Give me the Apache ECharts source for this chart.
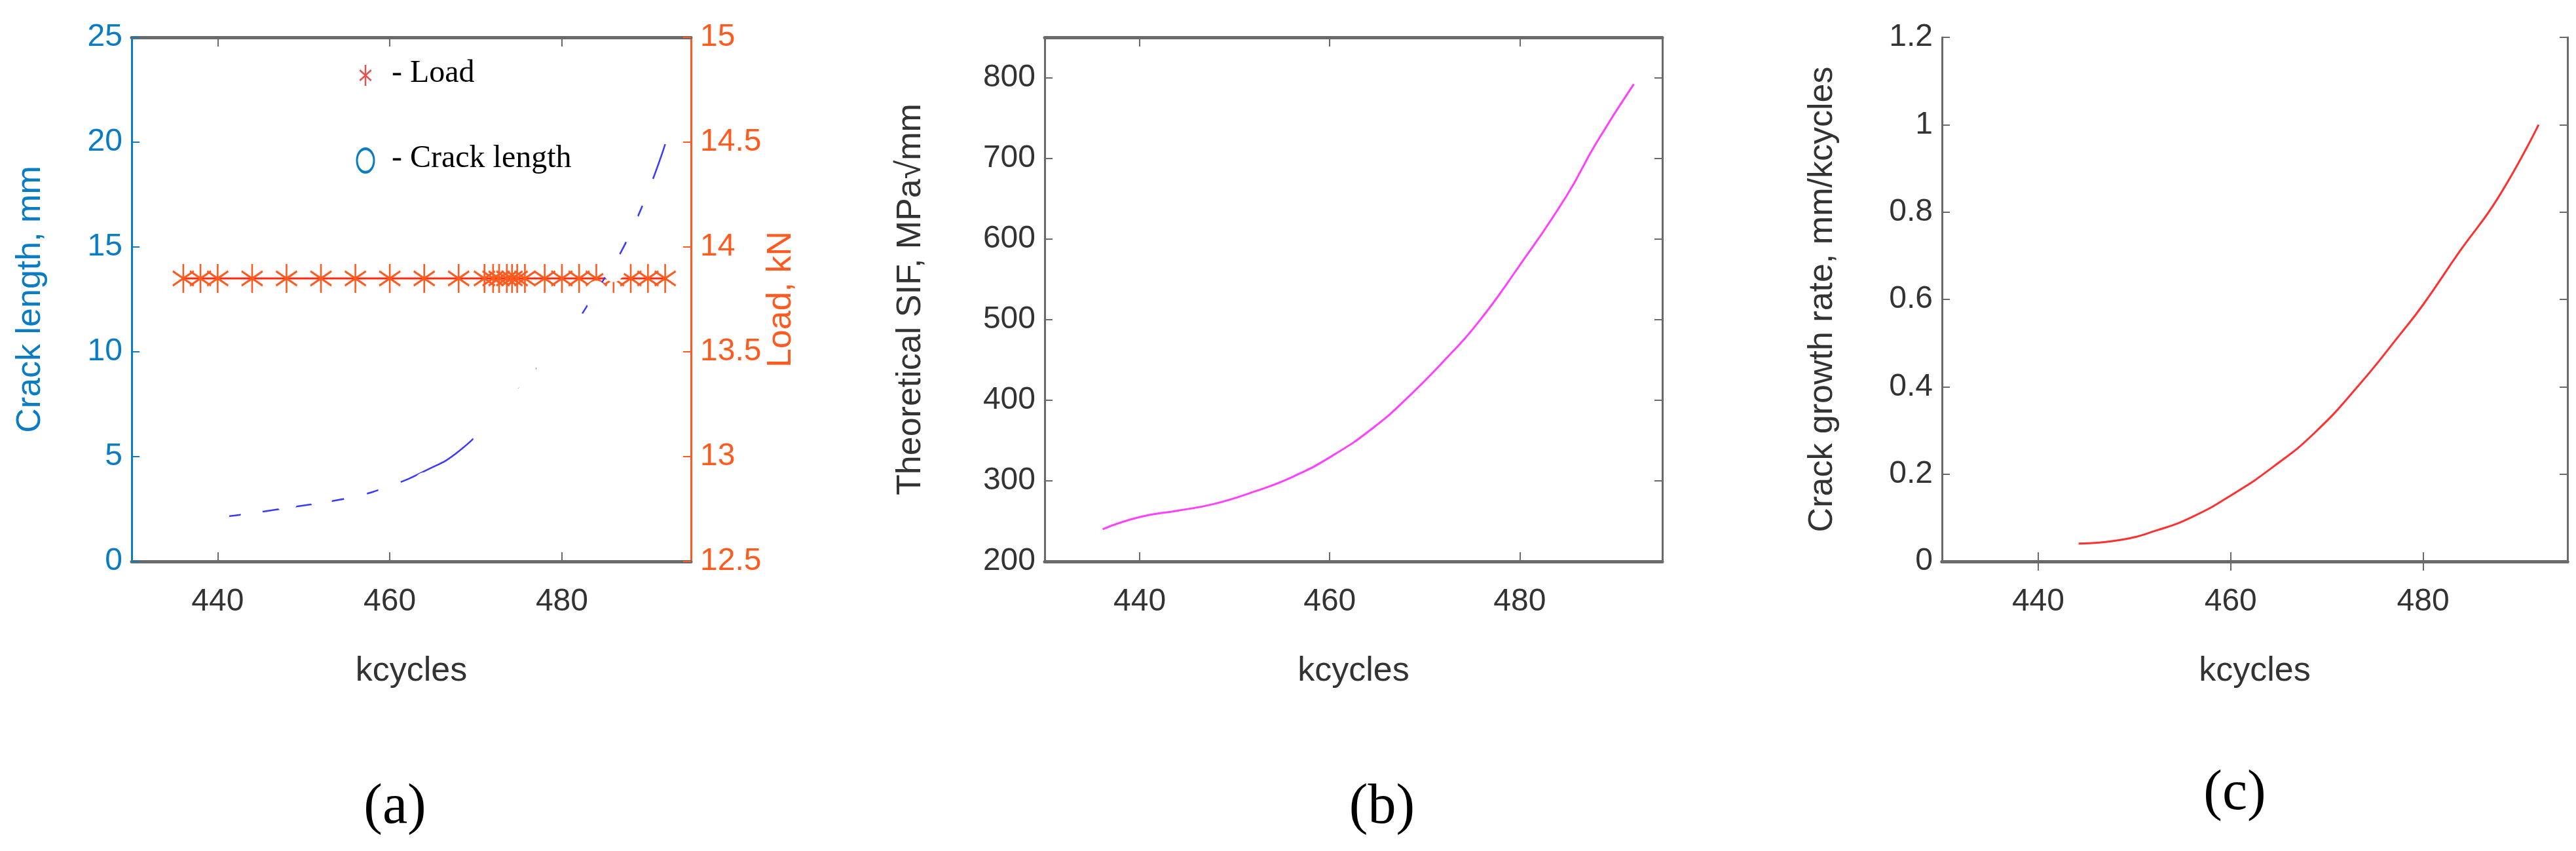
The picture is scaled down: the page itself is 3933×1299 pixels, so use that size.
<!DOCTYPE html>
<html><head><meta charset="utf-8">
<script src="https://cdn.jsdelivr.net/npm/echarts@6/dist/echarts.min.js"></script>
<style>html,body{margin:0;padding:0;background:#fff}#c{width:3933px;height:1299px}</style>
</head><body><div id="c"></div>
<script>
// Panel (a) data
const crackX = [436,438,440,444,448,452,456,460,464,468,471,472,472.7,473.6,474.8,475.7,478,480,482,484,486,488,490,492];
const crackY = [2.06,2.06,2.06,2.06,3.04,3.15,3.15,3.53,3.53,4.03,6.05,7.36,7.47,8.35,9.0,8.95,9.72,10.54,11.14,12.67,14.05,15.9,17.6,21.05];
const loadX = [436,438,440,444,448,452,456,460,464,468,471,472,472.7,473.6,474.2,474.8,475.7,478,480,482,484,486,488,490,492];
const loadY = [13.85,13.85,13.85,13.85,13.85,13.85,13.85,13.85,13.85,13.85,13.85,13.85,13.85,13.85,13.85,13.85,13.85,13.85,13.85,13.85,13.85,13.85,13.85,13.85,13.85];
const fitX = [436,440,444,448,452,456,460,464,468,472,476,480,484,488,492];
const fitY = [1.95,2.1,2.3,2.55,2.8,3.1,3.6,4.3,5.25,6.9,8.8,10.5,12.9,15.7,19.9];
// Panel (b) data
const sifX = [436.1,440,444,447.7,451.9,456.1,460.4,464.6,468,472.2,475.6,479.8,484.9,488,492];
const sifY = [240,255,263,271,286,305,332,366,401,451,496,564,653,718,792];
// Panel (c) data
const rateX = [444.2,448.5,452.3,456.1,460.3,464.5,468.7,473.3,477.5,480,483.8,487.8,492];
const rateY = [0.041,0.049,0.071,0.103,0.155,0.218,0.294,0.403,0.517,0.588,0.710,0.833,1.0];
const xTicks = [440,460,480];

const pair = (xs, ys) => xs.map((x, i) => [x, ys[i]]);
const SANS = 'Liberation Sans', SERIF = 'Liberation Serif';
const BLUE = '#0a7cc4', ORANGE = '#ff5a1f', GRAY = '#6a6a6a';
const STAR = 'path://M0,-10L0,10M-8.66,-5L8.66,5M-8.66,5L8.66,-5';
const FS = 48;

function xAx(grid) {
  return [{
    type: 'value', gridIndex: grid, min: 430, max: 495, position: 'bottom',
    axisLine: {lineStyle: {color: GRAY, width: 5}},
    axisTick: {inside: true, length: 14, customValues: xTicks, lineStyle: {color: GRAY, width: 2}},
    axisLabel: {customValues: xTicks, color: '#333', fontFamily: SANS, fontSize: FS, margin: 38},
    splitLine: {show: false},
    name: 'kcycles', nameLocation: 'middle', nameGap: 142,
    nameTextStyle: {color: '#333', fontFamily: SANS, fontSize: 52}
  }, {
    type: 'value', gridIndex: grid, min: 430, max: 495, position: 'top',
    axisLine: {lineStyle: {color: GRAY, width: 5}},
    axisTick: {inside: true, length: 14, customValues: xTicks, lineStyle: {color: GRAY, width: 2}},
    axisLabel: {show: false}, splitLine: {show: false}
  }];
}

const starLines = (cx, cy, r, ry, col) => [[0, -1, 0, 1], [-0.866, -0.5, 0.866, 0.5], [-0.866, 0.5, 0.866, -0.5]]
  .map(s => ({type: 'line', shape: {x1: cx + s[0]*r, y1: cy + s[1]*ry, x2: cx + s[2]*r, y2: cy + s[3]*ry},
              style: {stroke: col, lineWidth: 2.5}}));

const option = {
  animation: false,
  backgroundColor: '#fff',
  grid: [
    {left: 201, width: 854, top: 57, height: 800},
    {left: 1595, width: 943, top: 57, height: 800},
    {left: 2965, width: 955, top: 57, height: 800}
  ],
  xAxis: [...xAx(0), ...xAx(1), ...xAx(2)],
  yAxis: [
    {type: 'value', gridIndex: 0, min: 0, max: 25, interval: 5, position: 'left',
     axisLine: {show: true, lineStyle: {color: BLUE, width: 3}},
     axisTick: {show: true, inside: true, length: 12, lineStyle: {color: BLUE, width: 2}},
     axisLabel: {color: BLUE, fontFamily: SANS, fontSize: FS, margin: 14},
     splitLine: {show: false},
     name: 'Crack length, mm', nameLocation: 'middle', nameGap: 128,
     nameTextStyle: {color: BLUE, fontFamily: SANS, fontSize: 52}},
    {type: 'value', gridIndex: 0, min: 12.5, max: 15, interval: 0.5, position: 'right',
     axisLine: {show: true, lineStyle: {color: ORANGE, width: 3}},
     axisTick: {show: true, inside: true, length: 12, lineStyle: {color: ORANGE, width: 2}},
     axisLabel: {color: ORANGE, fontFamily: SANS, fontSize: FS, margin: 14},
     splitLine: {show: false},
     name: 'Load, kN', nameLocation: 'middle', nameGap: 100,
     nameTextStyle: {color: ORANGE, fontFamily: SANS, fontSize: 52}},
    {type: 'value', gridIndex: 1, min: 200, max: 850, interval: 100, position: 'left',
     axisLine: {show: true, lineStyle: {color: GRAY, width: 3}},
     axisTick: {show: true, inside: true, length: 12, lineStyle: {color: GRAY, width: 2}},
     axisLabel: {color: '#333', fontFamily: SANS, fontSize: FS, margin: 14,
                 formatter: v => v > 800 ? '' : v},
     splitLine: {show: false},
     name: 'Theoretical SIF, MPa√mm', nameLocation: 'middle', nameGap: 178,
     nameTextStyle: {color: '#333', fontFamily: SANS, fontSize: 52}},
    {type: 'value', gridIndex: 1, min: 200, max: 850, interval: 100, position: 'right',
     axisLine: {show: true, lineStyle: {color: GRAY, width: 3}},
     axisTick: {show: true, inside: true, length: 12, lineStyle: {color: GRAY, width: 2}},
     axisLabel: {show: false}, splitLine: {show: false}},
    {type: 'value', gridIndex: 2, min: 0, max: 1.2, interval: 0.2, position: 'left',
     axisLine: {show: true, lineStyle: {color: GRAY, width: 3}},
     axisTick: {show: true, inside: true, length: 12, lineStyle: {color: GRAY, width: 2}},
     axisLabel: {color: '#333', fontFamily: SANS, fontSize: FS, margin: 14,
                 formatter: v => +v.toFixed(1) + ''},
     splitLine: {show: false},
     name: 'Crack growth rate, mm/kcycles', nameLocation: 'middle', nameGap: 156,
     nameTextStyle: {color: '#333', fontFamily: SANS, fontSize: 52}},
    {type: 'value', gridIndex: 2, min: 0, max: 1.2, interval: 0.2, position: 'right',
     axisLine: {show: true, lineStyle: {color: GRAY, width: 3}},
     axisTick: {show: true, inside: true, length: 12, lineStyle: {color: GRAY, width: 2}},
     axisLabel: {show: false}, splitLine: {show: false}}
  ],
  series: [
    {type: 'line', xAxisIndex: 0, yAxisIndex: 1, data: pair(loadX, loadY),
     lineStyle: {color: '#ff2a10', width: 3}, symbol: STAR, symbolSize: [32, 44],
     itemStyle: {color: 'none', borderColor: ORANGE, borderWidth: 3}, z: 2},
    {type: 'line', xAxisIndex: 0, yAxisIndex: 0, data: pair(fitX, fitY), smooth: true,
     showSymbol: false, lineStyle: {color: '#3a3aff', width: 2.5}, z: 3},
    {type: 'scatter', xAxisIndex: 0, yAxisIndex: 0, data: pair(crackX, crackY),
     symbol: 'emptyCircle', symbolSize: [34, 44],
     itemStyle: {color: '#fff', opacity: 1, borderColor: BLUE, borderWidth: 3.5}, z: 4},
    {type: 'line', xAxisIndex: 2, yAxisIndex: 2, data: pair(sifX, sifY), smooth: true,
     showSymbol: false, lineStyle: {color: '#ff40ff', width: 3}},
    {type: 'line', xAxisIndex: 4, yAxisIndex: 4, data: pair(rateX, rateY), smooth: true,
     showSymbol: false, lineStyle: {color: '#ff3030', width: 3}}
  ],
  graphic: [
    ...starLines(558, 115, 10, 16, '#e85050'),
    {type: 'text', left: 598, top: 88, style: {text: '- Load', font: '48px "Liberation Serif"', fill: '#000'}},
    {type: 'circle', shape: {cx: 0, cy: 0, r: 13}, x: 558, y: 245, scaleY: 1.38,
     style: {fill: 'none', stroke: BLUE, lineWidth: 3}},
    {type: 'text', left: 598, top: 218, style: {text: '- Crack length', font: '48px "Liberation Serif"', fill: '#000'}},
    {type: 'text', x: 603, y: 1233, style: {text: '(a)', font: '86px "Liberation Serif"', fill: '#000', align: 'center', verticalAlign: 'middle'}},
    {type: 'text', x: 2110, y: 1233, style: {text: '(b)', font: '86px "Liberation Serif"', fill: '#000', align: 'center', verticalAlign: 'middle'}},
    {type: 'text', x: 3412, y: 1212, style: {text: '(c)', font: '86px "Liberation Serif"', fill: '#000', align: 'center', verticalAlign: 'middle'}}
  ]
};
echarts.init(document.getElementById('c')).setOption(option);
</script></body></html>
